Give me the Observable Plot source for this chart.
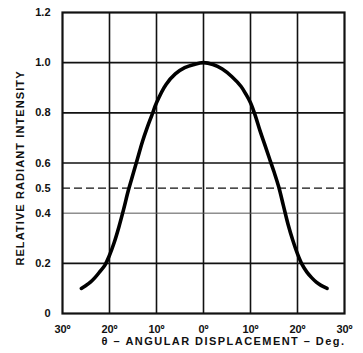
<!DOCTYPE html>
<html>
<head>
<meta charset="utf-8">
<script src="https://cdn.jsdelivr.net/npm/d3@7"></script>
<script src="https://cdn.jsdelivr.net/npm/@observablehq/plot@0.6"></script>
<style>
  html, body { margin: 0; padding: 0; background: #fff; }
  .x-title { letter-spacing: 1.45px; }
  .y-title { letter-spacing: 1.1px; }
</style>
</head>
<body>
<div id="chart"></div>
<script>
// Data
const angles = [-26, -25, -24, -23, -22, -21, -20, -19, -18, -17, -16, -15, -14, -13, -12, -11, -10, -8, -6, -4, -2, 0,
                2, 4, 6, 8, 9, 10, 11, 12, 13, 14, 15, 16, 17, 18, 19, 20, 21, 22, 23, 24, 25, 26.3];
const intensity = [0.10, 0.112, 0.126, 0.145, 0.168, 0.192, 0.232, 0.283, 0.345, 0.415, 0.49, 0.555, 0.62, 0.685, 0.74, 0.79, 0.84, 0.912, 0.955, 0.98, 0.993, 1.0,
                   0.993, 0.975, 0.945, 0.905, 0.875, 0.84, 0.79, 0.73, 0.675, 0.62, 0.565, 0.505, 0.43, 0.355, 0.292, 0.238, 0.195, 0.165, 0.143, 0.125, 0.112, 0.10];
const xTicks = [-30, -20, -10, 0, 10, 20, 30];
const yTicks = [0, 0.2, 0.4, 0.5, 0.6, 0.8, 1.0, 1.2];
const darkGrid = [0.2, 0.6, 0.8, 1.0];
const lightGrid = [0.4];
const dashedGrid = [0.5];
const xLabel = "θ – ANGULAR DISPLACEMENT – Deg.";
const yLabel = "RELATIVE RADIANT INTENSITY";

const curve = angles.map((a, i) => ({angle: a, value: intensity[i]}));

const chart = Plot.plot({
  width: 363,
  height: 353,
  marginLeft: 62,
  marginRight: 19,
  marginTop: 12,
  marginBottom: 40,
  style: {fontFamily: "'Liberation Sans', Arial, sans-serif", fontWeight: "bold", fontSize: "11px", color: "#111", background: "#fff"},
  x: {domain: [-30, 30]},
  y: {domain: [0, 1.2]},
  marks: [
    Plot.ruleX(xTicks.slice(1, -1), {stroke: "#111", strokeWidth: 1.6}),
    Plot.ruleY(darkGrid, {stroke: "#111", strokeWidth: 1.6}),
    Plot.ruleY(lightGrid, {stroke: "#555", strokeWidth: 1}),
    Plot.ruleY(dashedGrid, {stroke: "#111", strokeWidth: 1.3, strokeDasharray: "8,4"}),
    Plot.frame({stroke: "#111", strokeWidth: 2.2}),
    Plot.line(curve, {x: "angle", y: "value", curve: "catmull-rom", stroke: "#000", strokeWidth: 3.6, strokeLinecap: "round"}),
    Plot.axisX({ticks: xTicks, tickSize: 0, tickPadding: 12, tickFormat: d => Math.abs(d) + "º", label: null, fontSize: 11}),
    Plot.axisY({ticks: yTicks, tickSize: 0, tickPadding: 12, tickFormat: d => d === 0 ? "0" : d.toFixed(1), label: null, fontSize: 11}),
    Plot.text([xLabel], {frameAnchor: "bottom", textAnchor: "middle", dy: 31, dx: 20, fontSize: 11, fontWeight: "bold", fill: "#111", className: "x-title"}),
    Plot.text([yLabel], {frameAnchor: "left", textAnchor: "middle", rotate: -90, dx: -42, dy: 5, fontSize: 11, fontWeight: "bold", fill: "#111", className: "y-title"})
  ]
});
document.getElementById("chart").appendChild(chart);
</script>
</body>
</html>
